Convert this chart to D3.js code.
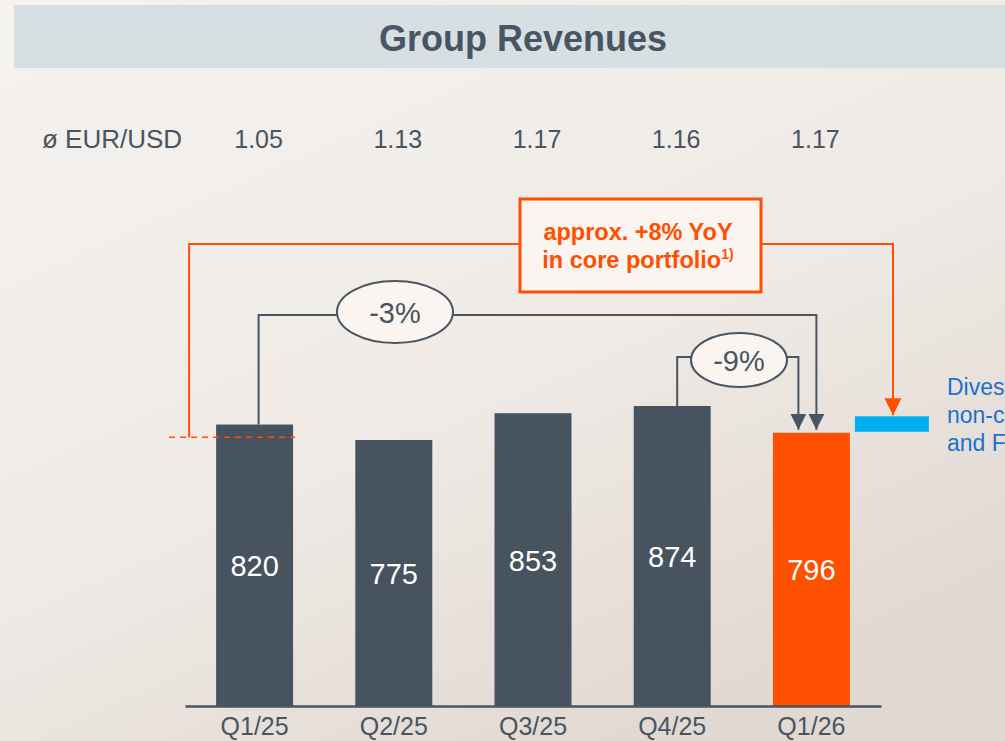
<!DOCTYPE html>
<html>
<head>
<meta charset="utf-8">
<script src="https://cdn.jsdelivr.net/npm/d3@7"></script>
<style>
  body { margin: 0; background: #f2eeeb; }
  svg { display: block; font-family: "Liberation Sans", Arial, sans-serif; }
</style>
</head>
<body>
<svg width="1005" height="741"></svg>
<script>
var quarters = ["Q1/25", "Q2/25", "Q3/25", "Q4/25", "Q1/26"];
var revenues = [820, 775, 853, 874, 796];
var fxRates = ["1.05", "1.13", "1.17", "1.16", "1.17"];
var coreBase = 783;      // Q1/25 core portfolio level (dashed line)
var divestFx = 48;       // divestments / FX bridge on top of Q1/26
var growthLabels = ["-3%", "-9%"];

var svg = d3.select("svg"),
  width = +svg.attr("width"),
  height = +svg.attr("height");

var grey = "#485562", orange = "#fe5000", blue = "#00aeef";

// background
var defs = svg.append("defs");
var grad = defs.append("linearGradient").attr("id", "bg")
  .attr("x1", 0).attr("y1", 0).attr("x2", 0.6).attr("y2", 1);
grad.append("stop").attr("offset", "0%").attr("stop-color", "#f5f2ef");
grad.append("stop").attr("offset", "60%").attr("stop-color", "#efeae6");
grad.append("stop").attr("offset", "100%").attr("stop-color", "#e2d9d2");
svg.append("rect").attr("width", width).attr("height", height).attr("fill", "url(#bg)");

var mk = defs.append("marker").attr("id", "arrG")
  .attr("viewBox", "0 0 10 10").attr("refX", 10).attr("refY", 5)
  .attr("markerWidth", 16).attr("markerHeight", 16)
  .attr("markerUnits", "userSpaceOnUse").attr("orient", "auto");
mk.append("path").attr("d", "M0,0L10,5L0,10Z").attr("fill", grey);
var mk2 = defs.append("marker").attr("id", "arrO")
  .attr("viewBox", "0 0 10 10").attr("refX", 10).attr("refY", 5)
  .attr("markerWidth", 17).attr("markerHeight", 17)
  .attr("markerUnits", "userSpaceOnUse").attr("orient", "auto");
mk2.append("path").attr("d", "M0,0L10,5L0,10Z").attr("fill", orange);

// title bar
svg.append("rect").attr("x", 14).attr("y", 5).attr("width", width - 14).attr("height", 63)
  .attr("fill", "#d7dfe2");
svg.append("text").attr("x", 523).attr("y", 51).attr("text-anchor", "middle")
  .attr("font-size", 36).attr("font-weight", "bold").attr("fill", grey)
  .text("Group Revenues");

// scales
var x = d3.scaleBand().domain(quarters).range([185, 881])
  .paddingInner(0.447).paddingOuter(0.2235);
var y = d3.scaleLinear().domain([0, 874]).range([706, 406]);
var bw = x.bandwidth();
var cx = function(q) { return x(q) + bw / 2; };

// FX row
svg.append("text").attr("x", 42).attr("y", 148).attr("font-size", 26).attr("fill", grey)
  .text("ø EUR/USD");
svg.selectAll(".fx").data(fxRates).enter().append("text")
  .attr("x", function(d, i) { return cx(quarters[i]) + 4; })
  .attr("y", 148).attr("text-anchor", "middle").attr("font-size", 25).attr("fill", grey)
  .text(function(d) { return d; });

// bars
svg.selectAll(".bar").data(revenues).enter().append("rect")
  .attr("x", function(d, i) { return x(quarters[i]); })
  .attr("y", function(d) { return y(d); })
  .attr("width", bw)
  .attr("height", function(d) { return y(0) - y(d); })
  .attr("fill", function(d, i) { return i === 4 ? orange : "#47535f"; });

svg.selectAll(".val").data(revenues).enter().append("text")
  .attr("x", function(d, i) { return cx(quarters[i]); })
  .attr("y", function(d) { return (y(d) + y(0)) / 2 + 11; })
  .attr("text-anchor", "middle").attr("font-size", 29).attr("fill", "#ffffff")
  .text(function(d) { return d; });

// axis
var axis = svg.append("g").attr("transform", "translate(0," + y(0) + ")")
  .call(d3.axisBottom(x).tickSize(0).tickPadding(9));
axis.select(".domain").attr("stroke", grey).attr("stroke-width", 2.5);
axis.selectAll("text").attr("font-size", 25).attr("fill", grey)
  .attr("font-family", "Liberation Sans, Arial, sans-serif").attr("dy", "0.8em");

// divestment / FX bridge
var q5 = quarters[4];
var bx = x(q5) + bw + 5;
svg.append("rect").attr("x", bx).attr("y", y(revenues[4] + divestFx))
  .attr("width", 74).attr("height", y(revenues[4]) - y(revenues[4] + divestFx) - 1)
  .attr("fill", blue);
var blueText = svg.append("text").attr("x", 947).attr("font-size", 23).attr("fill", "#1a72cc");
["Divestments of", "non-core business", "and FX effects"].forEach(function(t, i) {
  blueText.append("tspan").attr("x", 947).attr("y", 395 + i * 28).text(t);
});

// dashed core baseline + orange bracket
var yCore = y(coreBase);
svg.append("line").attr("x1", x(quarters[0]) - 47).attr("x2", x(quarters[0]) + bw + 2)
  .attr("y1", yCore).attr("y2", yCore)
  .attr("stroke", orange).attr("stroke-width", 1.5).attr("stroke-dasharray", "6,5");
var yTop = 244;
svg.append("path")
  .attr("d", "M" + (x(quarters[0]) - 27) + "," + yCore + "V" + yTop + "H893V" + (y(revenues[4] + divestFx) - 1))
  .attr("fill", "none").attr("stroke", orange).attr("stroke-width", 2)
  .attr("marker-end", "url(#arrO)");
svg.append("rect").attr("x", 520).attr("y", 199).attr("width", 241).attr("height", 93)
  .attr("fill", "#fbf5f1").attr("stroke", orange).attr("stroke-width", 3);
var boxText = svg.append("text").attr("text-anchor", "middle").attr("font-size", 23.5)
  .attr("font-weight", "bold").attr("fill", orange);
boxText.append("tspan").attr("x", 638).attr("y", 240).text("approx. +8% YoY");
var l2 = boxText.append("tspan").attr("x", 638).attr("y", 268).text("in core portfolio");
l2.append("tspan").attr("font-size", 14).attr("dy", -9).text("1)");

// growth connectors
var yArrow = y(revenues[4]) - 3;
var yC1 = 315, yC2 = 357;
svg.append("path")
  .attr("d", "M" + (cx(quarters[0]) + 4) + "," + y(revenues[0]) + "V" + yC1 + "H" + (cx(q5) + 5) + "V" + yArrow)
  .attr("fill", "none").attr("stroke", grey).attr("stroke-width", 2).attr("marker-end", "url(#arrG)");
svg.append("path")
  .attr("d", "M" + (cx(quarters[3]) + 5) + "," + y(revenues[3]) + "V" + yC2 + "H" + (cx(q5) - 13) + "V" + yArrow)
  .attr("fill", "none").attr("stroke", grey).attr("stroke-width", 2).attr("marker-end", "url(#arrG)");

var ells = [{cx: 395, cy: 312, rx: 58, ry: 31}, {cx: 739, cy: 360, rx: 48, ry: 27}];
ells.forEach(function(e, i) {
  svg.append("ellipse").attr("cx", e.cx).attr("cy", e.cy).attr("rx", e.rx).attr("ry", e.ry)
    .attr("fill", "#fbf5f1").attr("stroke", grey).attr("stroke-width", 2);
  svg.append("text").attr("x", e.cx).attr("y", e.cy + 11).attr("text-anchor", "middle")
    .attr("font-size", 29).attr("fill", grey).text(growthLabels[i]);
});
</script>
</body>
</html>
